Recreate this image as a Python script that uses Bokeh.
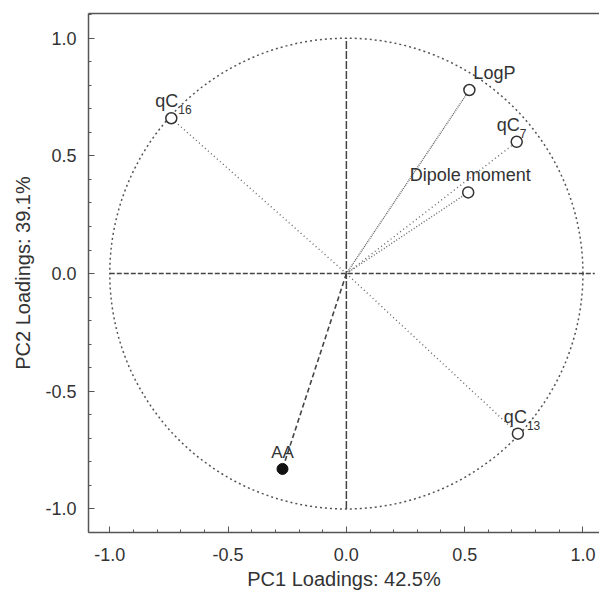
from bokeh.plotting import figure
from bokeh.models import (ColumnDataSource, Range1d, SingleIntervalTicker, PrintfTickFormatter,
                          LinearAxis, Label, FixedTicker)
from bokeh.embed import file_html
from bokeh.resources import INLINE

# ---- data ----
main_text = ["qC", "LogP", "qC", "Dipole moment", "qC"]
sub_text = ["16", "", "7", "", "13"]
pc1 = [-0.74, 0.52, 0.72, 0.515, 0.725]
pc2 = [0.66, 0.78, 0.56, 0.345, -0.68]
label_dx = [0, 25, 0, 2, 2]
dashes = ["1 3", "1 1", "1 3", "1 2", "1 3"]
case_name = ["AA"]
case_pc1 = [-0.27]
case_pc2 = [-0.83]
x_label = "PC1 Loadings: 42.5%"
y_label = "PC2 Loadings: 39.1%"

FONT = "Liberation Sans"
DARK = "#333333"

p = figure(frame_width=511, frame_height=519, min_border_left=88, min_border_right=0,
           min_border_top=13, min_border_bottom=60,
           x_range=Range1d(-1.09, 1.07), y_range=Range1d(-1.1, 1.105),
           output_backend="svg", toolbar_location=None,
           background_fill_color="white", border_fill_color="white")
p.outline_line_color = None
p.grid.visible = False

for ax in (p.xaxis[0], p.yaxis[0]):
    ax.ticker = SingleIntervalTicker(interval=0.5, num_minor_ticks=5)
    ax.formatter = PrintfTickFormatter(format="%.1f")
    ax.major_tick_in = 6
    ax.major_tick_out = 0
    ax.minor_tick_in = 3
    ax.minor_tick_out = 0
    ax.axis_line_color = "#555555"
    ax.axis_line_width = 1.5
    ax.major_tick_line_color = "#555555"
    ax.minor_tick_line_color = "#555555"
    ax.major_label_text_font = FONT
    ax.major_label_text_font_size = "18px"
    ax.major_label_text_color = DARK
    ax.axis_label_text_font = FONT
    ax.axis_label_text_font_size = "20px"
    ax.axis_label_text_font_style = "normal"
    ax.axis_label_text_color = DARK

p.xaxis.axis_label = x_label
p.yaxis.axis_label = y_label
p.xaxis.major_label_standoff = 15
p.yaxis.major_label_standoff = 12
p.xaxis.axis_label_standoff = 4
p.yaxis.axis_label_standoff = 8

top = LinearAxis(ticker=FixedTicker(ticks=[]), major_tick_in=0, major_tick_out=0,
                 minor_tick_in=0, minor_tick_out=0,
                 axis_line_color="#555555", axis_line_width=1.5, major_label_standoff=0)
p.add_layout(top, "above")

# unit circle
p.ellipse(x=0, y=0, width=2, height=2, fill_color=None, line_color="#555555",
          line_width=1.5, line_dash="2 3")
# center cross
p.segment(x0=[-1.0], y0=[0], x1=[1.05], y1=[0], line_color="#444444", line_width=1.5, line_dash="5 2")
p.segment(x0=[0], y0=[-1.0], x1=[0], y1=[1.0], line_color="#444444", line_width=1.5, line_dash="8 2")

# loading vectors
for xi, yi, d in zip(pc1, pc2, dashes):
    p.segment(x0=[0], y0=[0], x1=[xi], y1=[yi], line_color="#666666", line_width=1.4, line_dash=d)
p.segment(x0=[0], y0=[0], x1=case_pc1, y1=case_pc2, line_color="#444444", line_width=1.6, line_dash="5 3")

src = ColumnDataSource(dict(x=pc1, y=pc2))
p.scatter(x="x", y="y", source=src, size=11, fill_color="white", line_color=DARK, line_width=1.5)
p.scatter(x=case_pc1, y=case_pc2, size=11, fill_color="#111111", line_color="#111111")

for xi, yi, n, s, dx in zip(pc1, pc2, main_text, sub_text, label_dx):
    if s:
        shift = 3 if len(s) == 1 else 7
        p.add_layout(Label(x=xi, y=yi, text=n, x_offset=dx + shift, y_offset=7, text_align="right",
                           text_baseline="bottom", text_font=FONT, text_font_size="18px",
                           text_color=DARK))
        p.add_layout(Label(x=xi, y=yi, text=s, x_offset=dx + shift, y_offset=4, text_align="left",
                           text_baseline="bottom", text_font=FONT, text_font_size="12px",
                           text_color=DARK))
    else:
        p.add_layout(Label(x=xi, y=yi, text=n, x_offset=dx, y_offset=7, text_align="center",
                           text_baseline="bottom", text_font=FONT, text_font_size="18px",
                           text_color=DARK))
for xi, yi, n in zip(case_pc1, case_pc2, case_name):
    p.add_layout(Label(x=xi, y=yi, text=n, y_offset=7, text_align="center",
                       text_baseline="bottom", text_font=FONT, text_font_size="17px",
                       text_color=DARK))

open("out.html", "w").write(file_html(p, INLINE))
